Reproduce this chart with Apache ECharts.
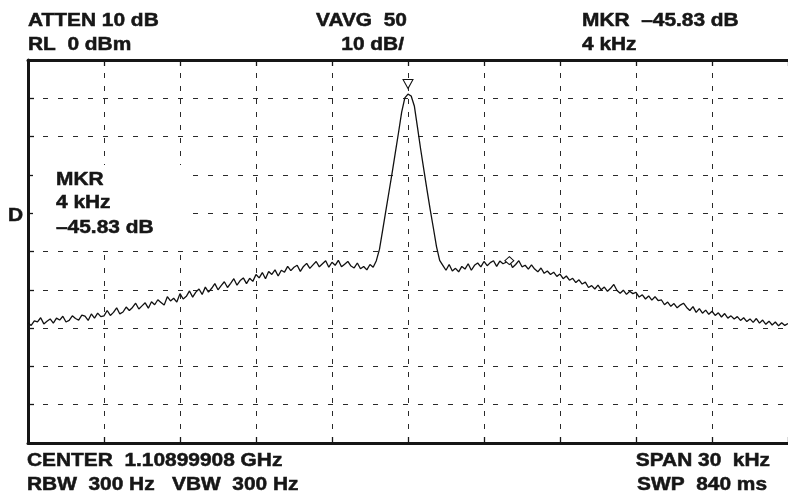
<!DOCTYPE html>
<html>
<head>
<meta charset="utf-8">
<script src="https://cdn.jsdelivr.net/npm/echarts@6/dist/echarts.min.js"></script>
<style>
html,body{margin:0;padding:0;background:#fff;}
#chart{width:788px;height:493px;}
</style>
</head>
<body>
<div id="chart"></div>
<script>
// Sweep definition: 241 points, -15 kHz .. +15 kHz around center
const SPAN_START_KHZ = -15;
const SPAN_STEP_KHZ = 0.125;

// Trace level (dBm), one row per kHz (8 points each)
const levels = [
  -68.6, -69.3, -68.1, -68.4, -67.3, -68.9, -68.2, -67.6,
  -68.7, -67.4, -67.9, -66.9, -68.4, -68.0, -66.8, -67.5,
  -67.9, -66.6, -66.9, -68.0, -66.3, -67.4, -66.1, -67.0,
  -66.8, -65.4, -66.7, -65.9, -64.7, -66.3, -65.8, -64.5,
  -65.4, -64.6, -63.5, -65.0, -64.2, -63.4, -64.8, -63.1,
  -63.9, -62.6, -63.3, -64.0, -61.8, -62.9, -62.2, -63.2,
  -61.0, -62.4, -61.7, -60.3, -61.9, -60.6, -59.8, -61.2,
  -59.3, -60.6, -59.6, -58.4, -60.0, -58.9, -57.9, -59.4,
  -58.3, -57.1, -58.8, -57.6, -56.9, -58.4, -57.0, -57.8,
  -56.0, -56.9, -55.5, -57.1, -55.2, -56.0, -54.8, -56.4,
  -54.9, -55.4, -53.9, -55.0, -54.1, -53.6, -55.2, -53.9,
  -53.1, -54.4, -53.5, -52.6, -54.0, -53.2, -52.4, -54.1,
  -52.8, -53.6, -52.3, -54.0, -53.3, -52.6, -53.8, -54.3,
  -53.0, -54.5, -53.9, -54.8, -53.4, -54.1, -52.4, -49.4,
  -44.4, -39.4, -34.4, -29.4, -24.2, -19.0, -13.6, -9.9,
  -8.9, -9.4, -12.0, -17.6, -23.3, -28.6, -33.9, -39.0,
  -43.8, -48.7, -52.3, -53.6, -54.9, -53.4, -55.1, -54.4,
  -55.3, -53.9, -54.6, -53.2, -54.9, -53.6, -53.0, -54.0,
  -52.6, -53.7, -52.9, -52.4, -53.9, -52.5, -53.2, -52.8,
  -52.4, -54.2, -53.4, -52.4, -54.0, -53.6, -54.6, -53.5,
  -54.6, -55.3, -54.3, -55.7, -55.1, -56.0, -55.4, -56.5,
  -55.9, -57.1, -56.4, -57.5, -57.0, -58.1, -57.4, -58.5,
  -58.0, -59.4, -58.9, -59.8, -58.8, -60.0, -59.3, -60.4,
  -59.6, -58.6, -60.2, -60.9, -60.1, -61.2, -60.4, -61.0,
  -60.7, -61.9, -61.3, -62.4, -61.6, -62.7, -61.8, -62.8,
  -62.6, -63.9, -63.2, -64.3, -63.6, -64.7, -64.0, -63.5,
  -64.6, -65.4, -64.4, -65.9, -64.9, -66.1, -65.3, -66.4,
  -65.6, -66.7, -66.0, -67.1, -66.2, -67.4, -66.8, -67.6,
  -67.0, -68.0, -67.3, -68.3, -67.6, -68.5, -67.5, -68.7,
  -67.9, -69.0, -68.2, -69.2, -68.4, -69.4, -68.6, -69.3,
  -68.8
];

// Markers
const peakMarker = [0, -8.9];
const deltaMarker = [4, -52.4];

// Annotation texts
const topLeft = ['ATTEN 10 dB', 'RL  0 dBm'];
const topMid = ['VAVG  50', '10 dB/'];
const topRight = ['MKR  \u201345.83 dB', '4 kHz'];
const bottomLeft = ['CENTER  1.10899908 GHz', 'RBW  300 Hz   VBW  300 Hz'];
const bottomRight = ['SPAN 30  kHz', 'SWP  840 ms'];
const mkrBlock = ['MKR', '4 kHz', '\u201345.83 dB'];
const sideLabel = 'D';

// Axis definitions
const xMin = -15, xMax = 15, xStep = 3;
const yMin = -100, yMax = 0, yStep = 10;

const data = levels.map((v, i) => [SPAN_START_KHZ + i * SPAN_STEP_KHZ, v]);

const INK = '#161616';
const FONT = 'bold 18px "Liberation Sans", Arial, sans-serif';
const SX = 1.16;

function txt(str, x, y, align) {
  return {
    type: 'text', x: x, y: y, scaleX: SX, z: 100,
    style: { text: str, x: 0, y: 0, font: FONT, fill: INK, stroke: INK, lineWidth: 0.5,
             textAlign: align || 'left', textVerticalAlign: 'middle' }
  };
}

const axisLineStyle = { color: INK, width: 3 };
const tickStyle = { color: INK, width: 1.3 };

const chart = echarts.init(document.getElementById('chart'), null, { renderer: 'canvas' });
chart.setOption({
  animation: false,
  backgroundColor: '#fff',
  grid: { left: 28, top: 60, width: 768, height: 383 },
  xAxis: [
    { type: 'value', min: xMin, max: xMax, interval: xStep, position: 'bottom',
      axisLine: { show: true, onZero: false, lineStyle: axisLineStyle },
      axisTick: { show: true, inside: true, length: 6, lineStyle: tickStyle },
      axisLabel: { show: false },
      splitLine: { show: true, lineStyle: { color: '#2a2a2a', width: 1, type: [5, 8] } } },
    { type: 'value', min: xMin, max: xMax, interval: xStep, position: 'top',
      axisLine: { show: true, onZero: false, lineStyle: axisLineStyle },
      axisTick: { show: true, inside: true, length: 6, lineStyle: tickStyle },
      axisLabel: { show: false },
      splitLine: { show: false } }
  ],
  yAxis: [
    { type: 'value', min: yMin, max: yMax, interval: yStep, position: 'left',
      axisLine: { show: true, onZero: false, lineStyle: axisLineStyle },
      axisTick: { show: true, inside: true, length: 6, lineStyle: tickStyle },
      axisLabel: { show: false },
      splitLine: { show: true, lineStyle: { color: '#2a2a2a', width: 1, type: [5, 10] } } }
  ],
  series: [{
    type: 'line',
    data: data,
    showSymbol: false,
    symbol: 'none',
    lineStyle: { color: '#111', width: 1.3 },
    markPoint: {
      silent: true,
      label: { show: false },
      itemStyle: { color: '#fff', borderColor: '#111', borderWidth: 1 },
      data: [
        { coord: peakMarker, symbol: 'triangle', symbolRotate: 180, symbolSize: [10, 9], symbolOffset: [0, -10] },
        { coord: deltaMarker, symbol: 'diamond', symbolSize: [9, 8] }
      ]
    }
  }],
  graphic: [
    { type: 'rect', shape: { x: 33, y: 165, width: 154, height: 85 }, style: { fill: '#fff' }, z: 95 },
    txt(topLeft[0], 28, 21),
    txt(topLeft[1], 28, 45.5),
    txt(topMid[0], 316, 21),
    txt(topMid[1], 404, 45.5, 'right'),
    txt(topRight[0], 582, 21),
    txt(topRight[1], 582, 45.5),
    txt(bottomLeft[0], 27, 461.5),
    txt(bottomLeft[1], 27, 485.5),
    txt(bottomRight[0], 770, 461.5, 'right'),
    txt(bottomRight[1], 767, 485.5, 'right'),
    txt(mkrBlock[0], 56, 180),
    txt(mkrBlock[1], 56, 203.5),
    txt(mkrBlock[2], 56, 228),
    txt(sideLabel, 8, 216.5)
  ]
});
</script>
</body>
</html>
